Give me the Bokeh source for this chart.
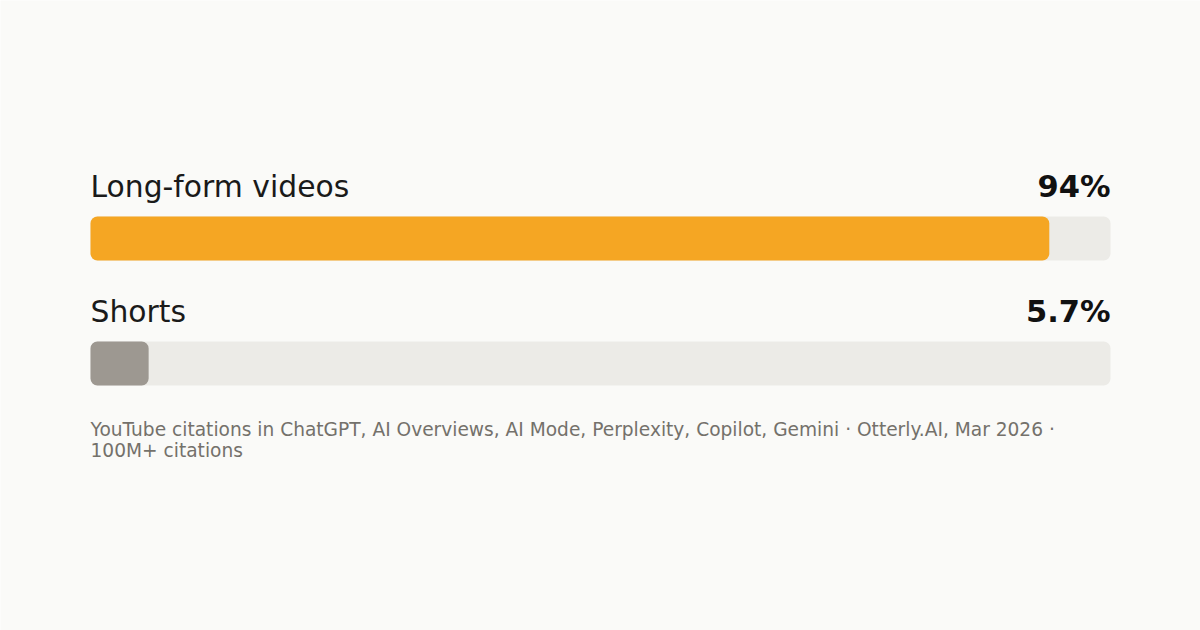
from bokeh.plotting import figure
from bokeh.models import Range1d
from bokeh.core.properties import value
from bokeh.embed import file_html
from bokeh.resources import INLINE

# ---- data ----
categories = ["Long-form videos", "Shorts"]
shares = [94, 5.7]
share_labels = ["94%", "5.7%"]
bar_colors = ["#F5A623", "#9D9891"]
footer_lines = [
    "YouTube citations in ChatGPT, AI Overviews, AI Mode, Perplexity, Copilot, Gemini \u00b7 Otterly.AI, Mar 2026 \u00b7",
    "100M+ citations",
]
track_max = 100

# ---- layout ----
W, H = 1200, 630
left_px, right_px = 90, 1110
scale = (right_px - left_px) / track_max
first_center, row_step = 238, 125
bar_h = 44
label_offset = 52

p = figure(width=W, height=H, output_backend="svg", toolbar_location=None,
           x_range=Range1d(-left_px / scale, (W - left_px) / scale),
           y_range=Range1d(H, 0),
           x_axis_location=None, y_axis_location=None,
           min_border=0, outline_line_color=None,
           background_fill_color="#FAFAF8", border_fill_color="#FAFAF8")
p.xgrid.visible = False
p.ygrid.visible = False

centers = [first_center + i * row_step for i in range(len(categories))]
label_y = [c - label_offset for c in centers]

p.hbar(y=centers, left=0, right=[track_max] * len(categories), height=bar_h,
       fill_color="#ECEBE7", line_color=None, border_radius=7)
p.hbar(y=centers, left=0, right=shares, height=bar_h,
       fill_color=bar_colors, line_color=None, border_radius=7)

p.text(x=[0] * len(categories), y=label_y, text=categories,
       text_font=value("DejaVu Sans"), text_font_size="29.8px",
       text_color="#1A1A1A", text_baseline="alphabetic", text_align="left")
p.text(x=[track_max] * len(categories), y=label_y, text=share_labels,
       text_font=value("DejaVu Sans"), text_font_size="30.5px", text_font_style="bold",
       text_color="#111111", text_baseline="alphabetic", text_align="right")

footer_y = [centers[-1] + 66 + i * 21 for i in range(len(footer_lines))]
p.text(x=[0] * len(footer_lines), y=footer_y, text=footer_lines,
       text_font=value("DejaVu Sans"), text_font_size="18.6px",
       text_color="#74716B", text_baseline="alphabetic", text_align="left")

open("out.html", "w").write(file_html(p, INLINE))
